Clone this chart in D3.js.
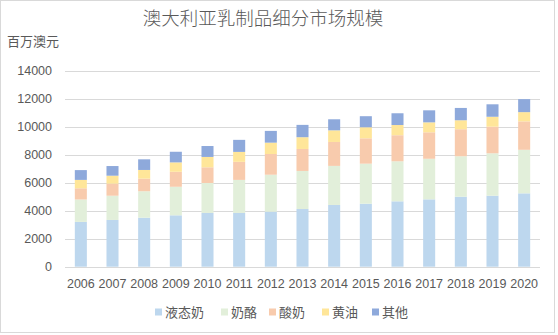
<!DOCTYPE html>
<html><head><meta charset="utf-8">
<script src="https://cdn.jsdelivr.net/npm/d3@7"></script>
<style>
html,body{margin:0;padding:0;background:#fff;}
svg{display:block;}
</style></head>
<body>
<svg id="chart" width="558" height="335"></svg>
<script>
const years = ["2006","2007","2008","2009","2010","2011","2012","2013","2014","2015","2016","2017","2018","2019","2020"];
const seriesNames = ["液态奶","奶酪","酸奶","黄油","其他"];
const liquidMilk = [3200,3340,3500,3670,3840,3840,3930,4120,4410,4500,4670,4810,5000,5070,5240];
const cheese     = [1600,1730,1890,2040,2140,2360,2640,2720,2790,2860,2860,2900,2890,3030,3110];
const yogurt     = [ 800, 860, 900,1070,1120,1290,1480,1570,1710,1810,1860,1890,1930,1900,2030];
const butter     = [ 600, 570, 620, 670, 740, 710, 810, 840, 830, 790, 730, 710, 640, 710, 660];
const other      = [ 700, 690, 760, 760, 780, 860, 840, 880, 790, 790, 840, 860, 880, 890, 930];
const yTicks = [0,2000,4000,6000,8000,10000,12000,14000];
const colors = ["#bdd7ee","#e2efda","#f8cbad","#ffe699","#8ea9db"];

const seriesValues = [liquidMilk, cheese, yogurt, butter, other];
const rows = years.map((y,i)=>{
  const r = {year:y};
  seriesNames.forEach((n,k)=>r[n]=seriesValues[k][i]);
  return r;
});

const svg = d3.select("#chart");
const numFont = "'Liberation Sans', Arial, sans-serif";
const cjkFont = "'Noto Sans CJK SC', sans-serif";
const textColor = "#595959";

// border
svg.append("rect").attr("x",0.5).attr("y",0.5).attr("width",554).attr("height",332)
  .attr("fill","#fff").attr("stroke","#d9d9d9");

const x = d3.scaleBand().domain(years).range([65,540]).paddingInner(0.62).paddingOuter(0.31);
const yS = d3.scaleLinear().domain([0,14000]).range([266.7,70.7]);

// gridlines
svg.append("g").selectAll("line").data(yTicks).join("line")
  .attr("x1",65).attr("x2",540)
  .attr("y1",d=>Math.round(yS(d))+0.5).attr("y2",d=>Math.round(yS(d))+0.5)
  .attr("stroke","#d9d9d9").attr("stroke-width",1);

// y axis labels
const yAxis = d3.axisLeft(yS).tickValues(yTicks).tickSize(0).tickPadding(0).tickFormat(d3.format("d"));
const gy = svg.append("g").attr("transform","translate(52,0)").call(yAxis);
gy.select(".domain").remove();
gy.selectAll("text").attr("font-family",numFont).attr("font-size","12.5px").attr("fill",textColor);

// stacked bars
const stack = d3.stack().keys(seriesNames);
const stacked = stack(rows);
svg.append("g").selectAll("g").data(stacked).join("g")
  .attr("fill",(d,i)=>colors[i])
  .selectAll("rect").data(d=>d).join("rect")
  .attr("x",d=>x(d.data.year))
  .attr("width",x.bandwidth())
  .attr("y",d=>yS(d[1]))
  .attr("height",d=>yS(d[0])-yS(d[1]));

// x axis
const xAxis = d3.axisBottom(x).tickSize(0).tickPadding(0);
const gx = svg.append("g").attr("transform","translate(0,279)").call(xAxis);
gx.select(".domain").remove();
gx.selectAll("text").attr("font-family",numFont).attr("font-size","12.5px").attr("fill",textColor).attr("dy","0.71em");

// title
svg.append("text").attr("x",263).attr("y",25).attr("text-anchor","middle")
  .attr("font-family",cjkFont).attr("font-size","18.5px").attr("font-weight",300).attr("fill",textColor)
  .text("澳大利亚乳制品细分市场规模");
svg.append("text").attr("x",7).attr("y",46)
  .attr("font-family",cjkFont).attr("font-size","13px").attr("fill",textColor)
  .text("百万澳元");

// legend
const legendX = [155,221,269,322,372];
const lg = svg.append("g").selectAll("g").data(seriesNames).join("g")
  .attr("transform",(d,i)=>`translate(${legendX[i]},312)`);
lg.append("rect").attr("x",0).attr("y",-3.5).attr("width",7).attr("height",7).attr("fill",(d,i)=>colors[i]);
lg.append("text").attr("x",10).attr("y",0).attr("dy","0.36em")
  .attr("font-family",cjkFont).attr("font-size","13px").attr("fill",textColor).text(d=>d);
</script>
</body></html>
